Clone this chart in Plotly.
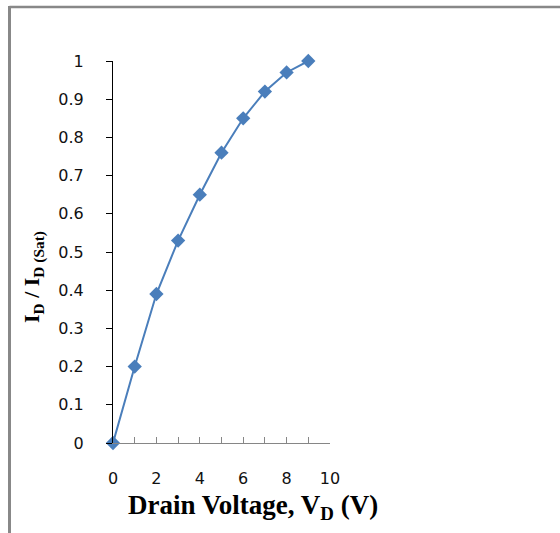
import plotly.graph_objects as go

vd = [0, 1, 2, 3, 4, 5, 6, 7, 8, 9]
id_ratio = [0, 0.20, 0.39, 0.53, 0.65, 0.76, 0.85, 0.92, 0.97, 1.00]
x_ticks = [0, 2, 4, 6, 8, 10]
y_ticks = [0, 0.1, 0.2, 0.3, 0.4, 0.5, 0.6, 0.7, 0.8, 0.9, 1]
y_tick_text = ["0", "0.1", "0.2", "0.3", "0.4", "0.5", "0.6", "0.7", "0.8", "0.9", "1"]

W, H = 560, 533
L, R, T, B = 113, 330, 61, 443

fig = go.Figure()
fig.add_trace(go.Scatter(
    x=vd, y=id_ratio, mode="lines+markers",
    line=dict(color="#4a7ebb", width=2),
    marker=dict(symbol="diamond", size=11, color="#4a7ebb"),
    cliponaxis=False, showlegend=False,
))

tick_font = dict(family="DejaVu Sans", size=16, color="#111111")

fig.update_layout(
    width=W, height=H,
    margin=dict(l=L, r=W - R, t=T, b=H - B, pad=0),
    paper_bgcolor="white", plot_bgcolor="white",
    xaxis=dict(range=[0, 10], tickvals=x_ticks, ticks="inside", ticklen=6,
               tickcolor="#868686", showline=True, linecolor="#868686", linewidth=1,
               showgrid=False, zeroline=False, tickfont=tick_font,
               ticklabelstandoff=21,
               minor=dict(dtick=1, ticks="inside", ticklen=6, tickcolor="#868686")),
    yaxis=dict(range=[0, 1], tickvals=y_ticks, ticktext=y_tick_text, ticks="outside",
               ticklen=6, tickcolor="black", showline=True, linecolor="black",
               linewidth=1, showgrid=False, zeroline=False, tickfont=tick_font,
               ticklabelstandoff=19),
)

def px2x(px):
    return (px - L) / (R - L)

def px2y(py):
    return (B - py) / (B - T)

# frame lines (top and left of the cropped chart area)
fig.add_shape(type="line", xref="paper", yref="paper",
              x0=px2x(9.5), x1=px2x(560), y0=px2y(7), y1=px2y(7),
              line=dict(color="#888888", width=2.5))
fig.add_shape(type="line", xref="paper", yref="paper",
              x0=px2x(9.5), x1=px2x(9.5), y0=px2y(6), y1=px2y(533),
              line=dict(color="#888888", width=3))

fig.add_annotation(xref="paper", yref="paper", x=px2x(253), y=px2y(507),
                   text="<b>Drain Voltage, V<sub>D</sub> (V)</b>", showarrow=False,
                   font=dict(family="Liberation Serif", size=27, color="black"),
                   xanchor="center", yanchor="middle")
fig.add_annotation(xref="paper", yref="paper", x=px2x(33), y=px2y(277),
                   text="<b>I<sub>D</sub> / I<sub>D (Sat)</sub></b>", showarrow=False,
                   textangle=-90,
                   font=dict(family="Liberation Serif", size=22, color="black"),
                   xanchor="center", yanchor="middle")

fig.write_html("out.html")
